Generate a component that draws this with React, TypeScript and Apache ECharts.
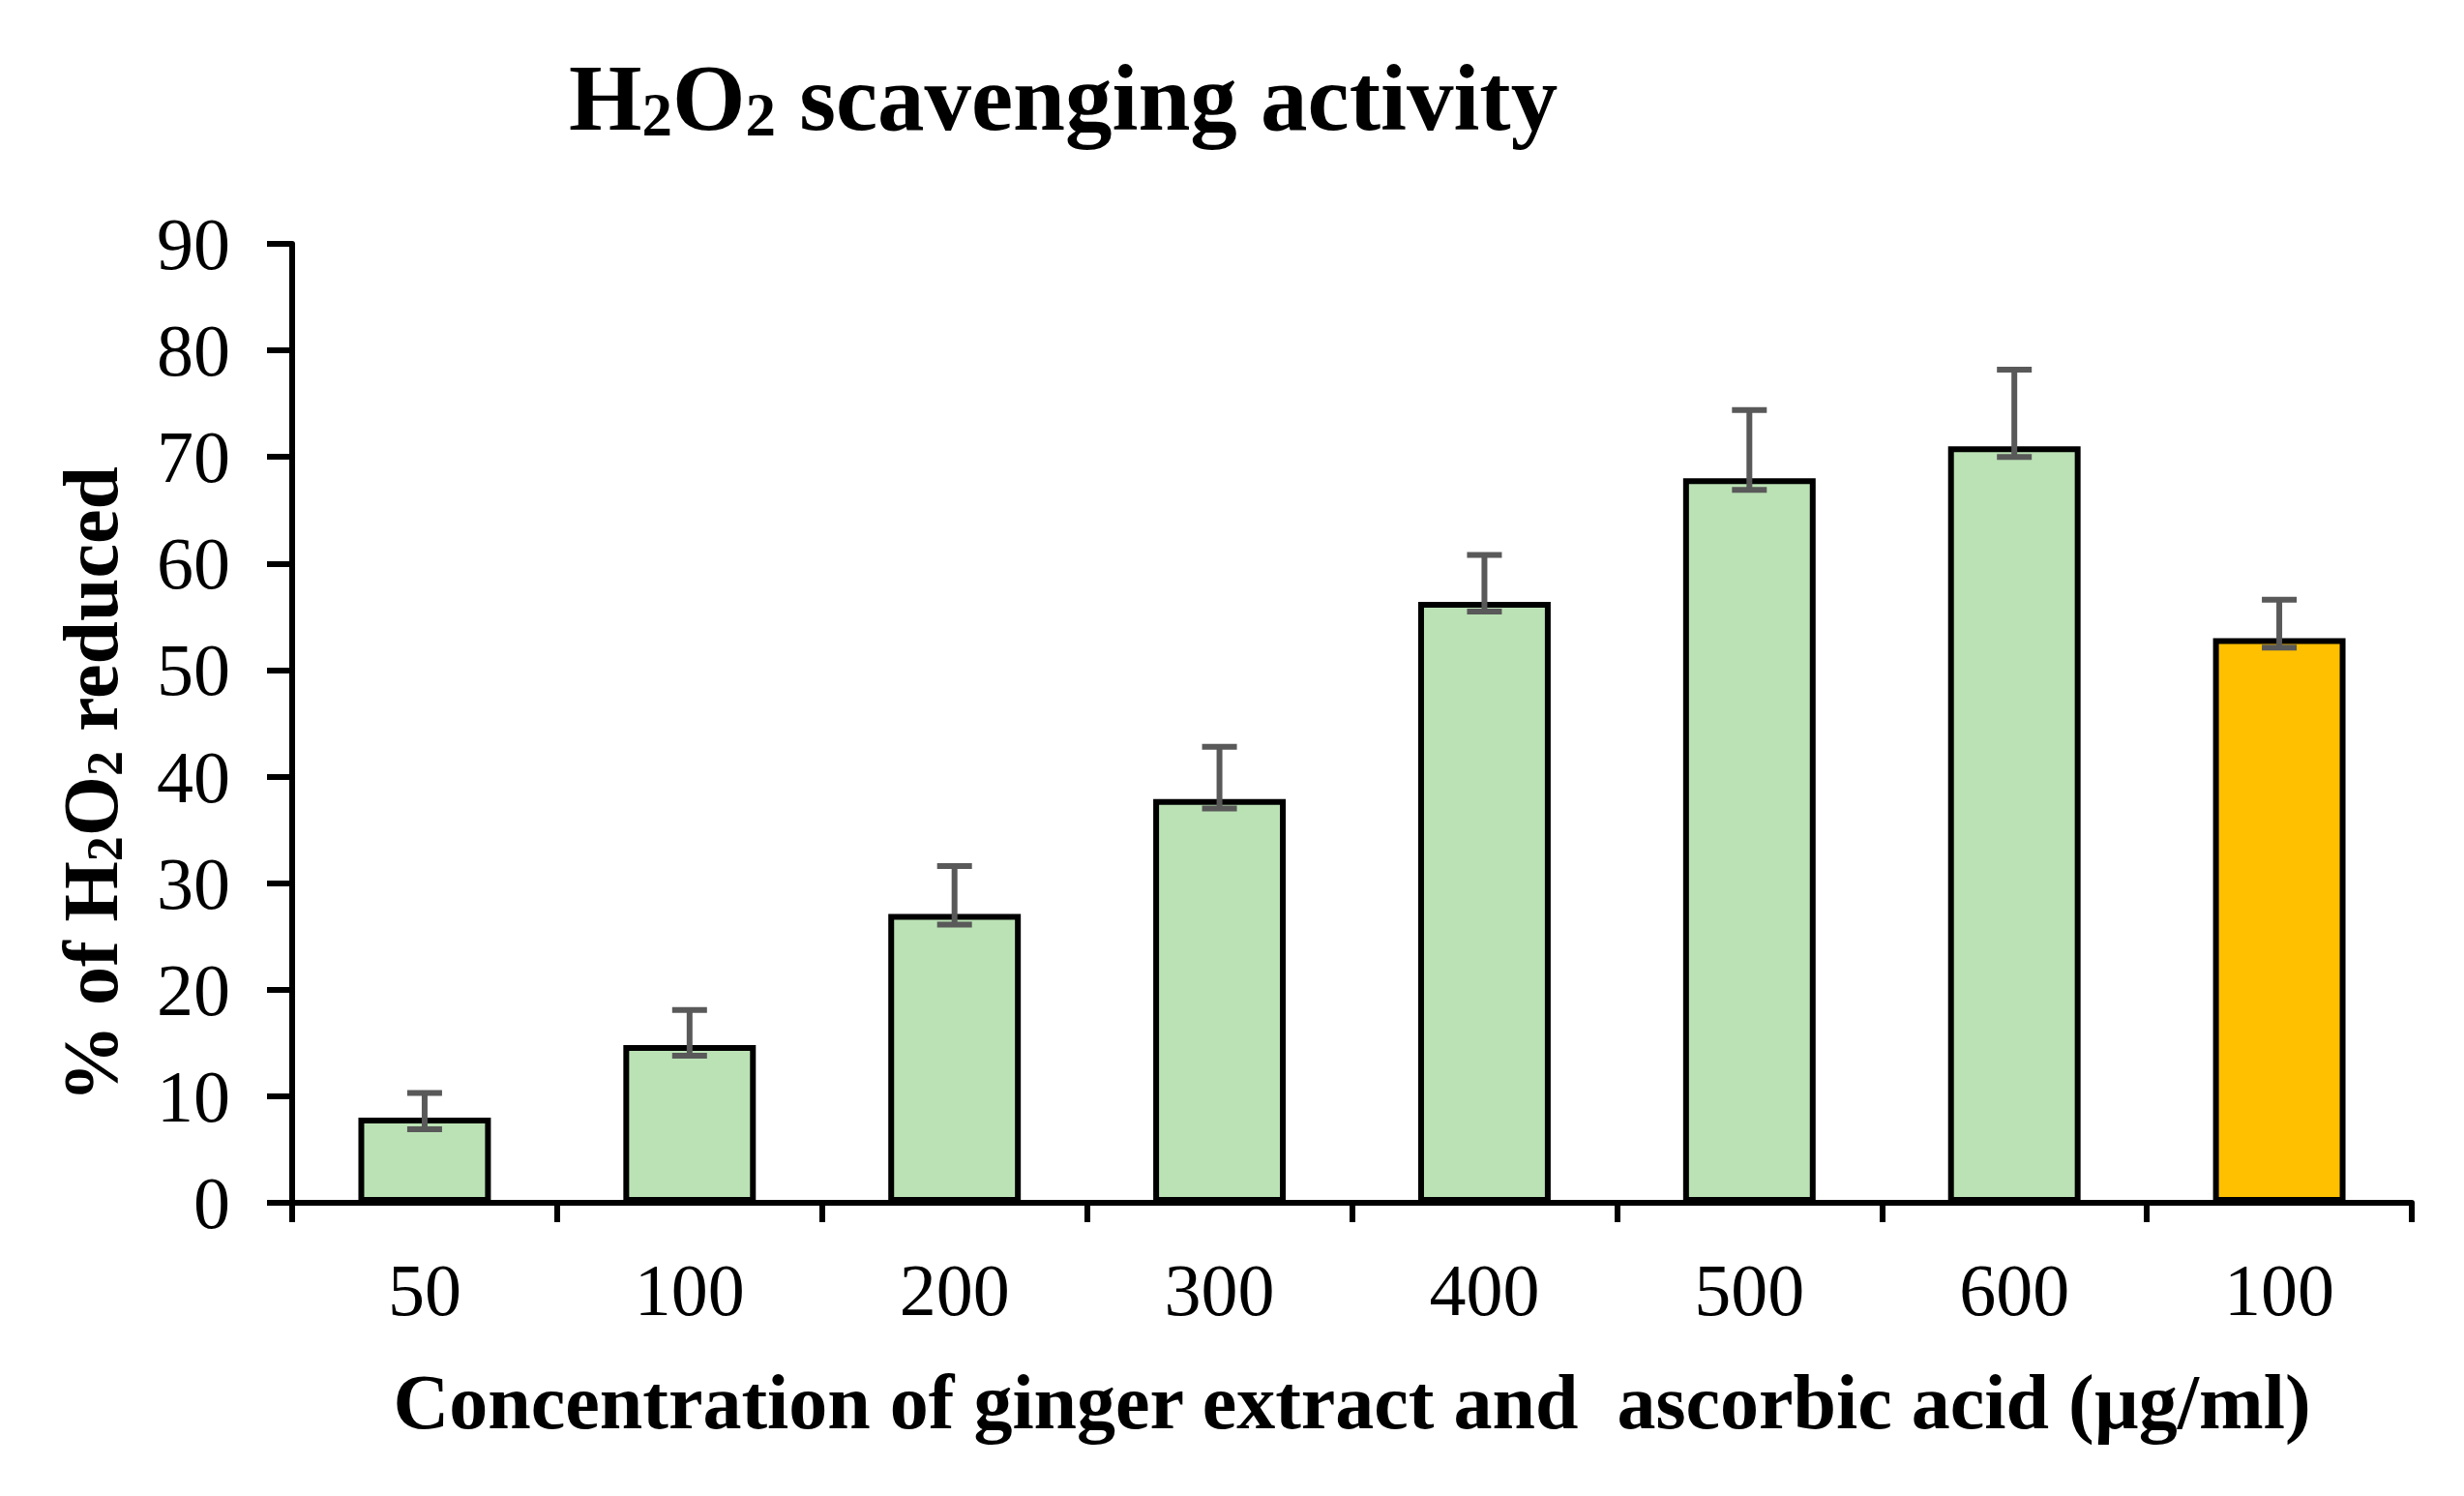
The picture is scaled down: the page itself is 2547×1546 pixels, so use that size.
import React, { useEffect, useRef } from "react";
import * as echarts from "echarts";

const categories = ["50", "100", "200", "300", "400", "500", "600", "100"];
const values = [8.0, 14.8, 27.1, 37.9, 56.4, 68.0, 71.0, 53.0];
const errUpper = [10.3, 18.1, 31.6, 42.8, 60.8, 74.4, 78.2, 56.6];
const errLower = [6.9, 13.8, 26.1, 37.0, 55.5, 66.9, 70.0, 52.1];
const barColors = ["#BBE2B5", "#BBE2B5", "#BBE2B5", "#BBE2B5", "#BBE2B5", "#BBE2B5", "#BBE2B5", "#FFC000"];
const yMin = 0;
const yMax = 90;
const yInterval = 10;

const FONT = "Liberation Serif";

export default function App() {
  const ref = useRef<HTMLDivElement>(null);
  useEffect(() => {
    if (!ref.current) return;
    const chart = echarts.init(ref.current, null, { renderer: "svg" });
    const option: any = {
      animation: false,
      backgroundColor: "#ffffff",
      title: {
        text: "{n|H}{s|2}{n|O}{s|2}{n| scavenging activity}",
        left: 583,
        top: 48,
        textStyle: {
          rich: {
            n: { fontSize: 97, fontWeight: "bold", fontFamily: FONT, color: "#000" },
            s: { fontSize: 63, fontWeight: "bold", fontFamily: FONT, color: "#000", verticalAlign: "bottom" },
          },
        },
      },
      grid: { left: 302, right: 54, top: 252, bottom: 303, containLabel: false },
      xAxis: {
        type: "category",
        data: categories,
        name: "Concentration of ginger extract and  ascorbic acid (µg/ml)",
        nameLocation: "middle",
        nameGap: 166,
        nameTextStyle: { fontFamily: FONT, fontWeight: "bold", fontSize: 80, color: "#000" },
        axisLine: { show: true, lineStyle: { color: "#000", width: 6 } },
        axisTick: { show: true, length: 20, interval: 0, lineStyle: { color: "#000", width: 6 } },
        axisLabel: { interval: 0, margin: 52, fontFamily: FONT, fontSize: 76, color: "#000" },
        splitLine: { show: false },
      },
      yAxis: {
        type: "value",
        min: yMin,
        max: yMax,
        interval: yInterval,
        name: "{n|% of H}{s|2}{n|O}{s|2}{n| reduced}",
        nameLocation: "middle",
        nameRotate: 90,
        nameGap: 168,
        nameTextStyle: {
          padding: [0, 126, 0, 0],
          rich: {
            n: { fontSize: 80, fontWeight: "bold", fontFamily: FONT, color: "#000" },
            s: { fontSize: 52, fontWeight: "bold", fontFamily: FONT, color: "#000", verticalAlign: "bottom", padding: [20, 0, 0, 0] },
          },
        },
        axisLine: { show: true, lineStyle: { color: "#000", width: 6 } },
        axisTick: { show: true, length: 26, lineStyle: { color: "#000", width: 6 } },
        axisLabel: { margin: 64, fontFamily: FONT, fontSize: 76, color: "#000" },
        splitLine: { show: false },
      },
      series: [
        {
          type: "bar",
          barWidth: "50%",
          data: values.map((v, i) => ({ value: v, itemStyle: { color: barColors[i] } })),
          itemStyle: { borderColor: "#000", borderWidth: 6 },
          z: 2,
        },
        {
          type: "custom",
          z: 3,
          data: categories.map((_, i) => [i, errLower[i], errUpper[i]]),
          renderItem: (params: any, api: any) => {
            const x = api.value(0);
            const pHi = api.coord([x, api.value(2)]);
            const pLo = api.coord([x, api.value(1)]);
            const hw = 18;
            const st = { stroke: "#595959", lineWidth: 6 };
            return {
              type: "group",
              children: [
                { type: "line", shape: { x1: pHi[0], y1: pHi[1], x2: pLo[0], y2: pLo[1] }, style: st },
                { type: "line", shape: { x1: pHi[0] - hw, y1: pHi[1], x2: pHi[0] + hw, y2: pHi[1] }, style: st },
                { type: "line", shape: { x1: pLo[0] - hw, y1: pLo[1], x2: pLo[0] + hw, y2: pLo[1] }, style: st },
              ],
            };
          },
        },
      ],
    };
    chart.setOption(option);
    return () => chart.dispose();
  }, []);
  return <div ref={ref} style={{ position: "absolute", left: 0, top: 0, width: 2547, height: 1546 }} />;
}
